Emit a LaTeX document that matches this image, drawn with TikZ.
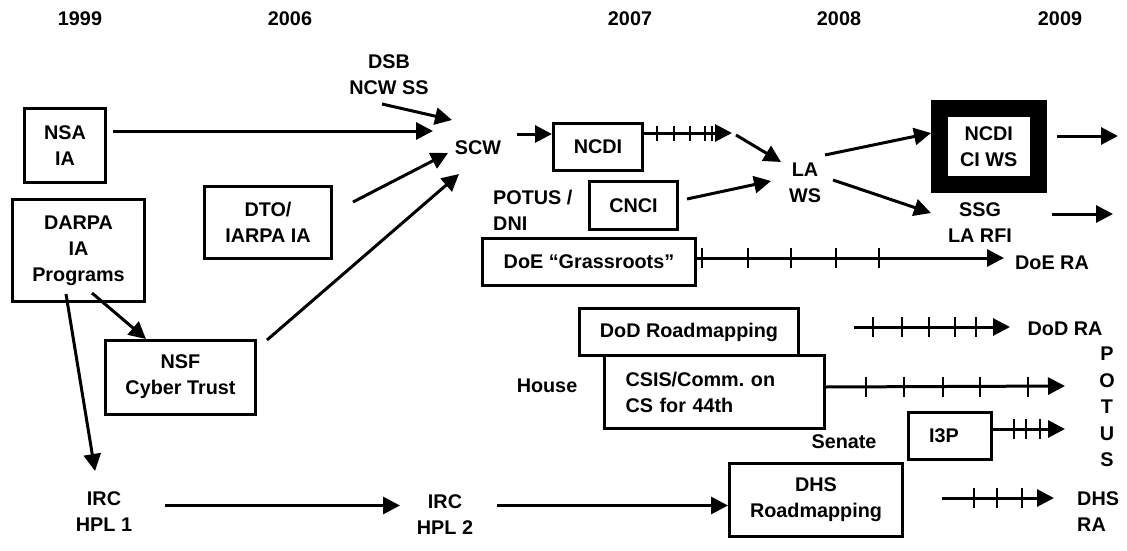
\documentclass[tikz,border=0pt]{standalone}
\usepackage{fontspec}
\setmainfont{Liberation Sans}
\usetikzlibrary{arrows.meta}
\frenchspacing
\begin{document}
\begin{tikzpicture}[x=1pt,y=-1pt,
  every node/.style={font=\fontsize{19.8}{26}\selectfont\bfseries, inner sep=0pt, align=center},
  box/.style={draw, line width=3pt},
  arr/.style={line width=3pt, -{Triangle[length=17pt,width=17pt]}},
  tickmark/.style={line width=2.5pt},
]
\fill[white] (0,0) rectangle (1127,551);
\useasboundingbox (0,0) rectangle (1127,551);

% years
\node (y1999) at (80,19) {1999};
\node (y2006) at (290,19) {2006};
\node (y2007) at (630,19) {2007};
\node (y2008) at (839,19) {2008};
\node (y2009) at (1060,19) {2009};

% nodes
\node (dsb) at (389,74.5) {DSB\\NCW SS};
\node[box, minimum width=81pt, minimum height=74pt] (nsa) at (65,145.5) {NSA\\IA};
\node[box, minimum width=132pt, minimum height=102pt] (darpa) at (78.5,250.5) {DARPA\\IA\\Programs};
\node[box, minimum width=127pt, minimum height=72pt] (dto) at (268,222.5) {DTO/\\IARPA IA};
\node[box, minimum width=150pt, minimum height=74pt] (nsf) at (180.5,377) {NSF\\Cyber Trust};
\node (scw) at (478,148) {SCW};
\node[box, minimum width=89pt, minimum height=47pt] (ncdi) at (598,147) {NCDI};
\node[box, minimum width=88pt, minimum height=48pt] (cnci) at (633.5,205.5) {CNCI};
\node[anchor=west, align=left] (potus) at (493,210.5) {POTUS /\\DNI};
\node[box, minimum width=213pt, minimum height=47pt] (doe) at (589,262) {DoE “Grassroots”};
\node (la) at (805,183) {LA\\WS};
\node[draw, line width=17pt, minimum width=98.5pt, minimum height=75.5pt] (ncdici) at (988.75,146.25) {NCDI\\CI WS};
\node (ssg) at (980,222.5) {SSG\\LA RFI};
\node (doera) at (1052,263) {DoE RA};
\node[box, minimum width=219pt, minimum height=47pt] (dod) at (689,332) {DoD Roadmapping};
\node (dodra) at (1065,329) {DoD RA};
\node[box, text width=178pt, inner xsep=21pt, align=left, minimum height=73pt] (csis) at (714.5,392) {CSIS/Comm. on\\CS for 44th};
\node (house) at (547,386) {House};
\node[font=\fontsize{19.8}{26.5}\selectfont\bfseries] (potusv) at (1107,407) {P\\O\\T\\U\\S};
\node[box, minimum width=83pt, minimum height=47pt] (i3p) at (950,436) {I3P\hspace*{12pt}};
\node (senate) at (844,442) {Senate};
\node[box, minimum width=173pt, minimum height=73pt] (dhs) at (816,500) {DHS\\Roadmapping};
\node[anchor=west, align=left] (dhsra) at (1077,511.5) {DHS\\RA};
\node (irc1) at (104,512) {IRC\\HPL 1};
\node (irc2) at (445,514.5) {IRC\\HPL 2};

% connector end points
\coordinate (dsbS) at (382,104);
\coordinate (scwA) at (452,120);
\coordinate (scwB) at (433,131);
\coordinate (dtoS) at (353,202);
\coordinate (scwC) at (448,153);
\coordinate (nsfS) at (267,340);
\coordinate (scwD) at (459,174);
\coordinate (scwE) at (517,134);
\coordinate (ncdiH) at (732,133);
\coordinate (laA1) at (736,135);
\coordinate (laA2) at (781,162);
\coordinate (cnciS) at (687,199);
\coordinate (laB) at (771,181);
\coordinate (laC) at (825,155);
\coordinate (ncdiciW) at (931,133);
\coordinate (laD) at (833,180);
\coordinate (ssgW) at (931,213);
\coordinate (ciR1) at (1057,136);
\coordinate (ciR2) at (1118,136);
\coordinate (ssgR1) at (1052,214);
\coordinate (ssgR2) at (1113,214);
\coordinate (doeE) at (1004,258);
\coordinate (dodA1) at (854,327);
\coordinate (dodA2) at (1010,327);
\coordinate (csisE) at (1065,386);
\coordinate (i3pE) at (1065,429);
\coordinate (dhsA1) at (942,498);
\coordinate (dhsA2) at (1054,498);
\coordinate (darpaS1) at (92,293);
\coordinate (nsfT) at (146,339);
\coordinate (darpaS2) at (66,294);
\coordinate (irc1T) at (95,471);
\coordinate (irc1E) at (165,505.5);
\coordinate (irc2W) at (400,505.5);
\coordinate (irc2E) at (497,505.5);

% connectors
\draw[arr] (dsbS) -- (scwA);
\draw[arr, shorten <=6pt] (scwB -| nsa.east) -- (scwB);
\draw[arr] (dtoS) -- (scwC);
\draw[arr] (nsfS) -- (scwD);
\draw[arr] (scwE) -- (scwE -| ncdi.west);
\draw[arr] (ncdiH -| ncdi.east) -- (ncdiH);
\foreach \t in {657,674,690,705,712} \draw[tickmark] (\t,125.5) -- (\t,140.5);
\draw[arr] (laA1) -- (laA2);
\draw[arr] (cnciS) -- (laB);
\draw[arr] (laC) -- (ncdiciW);
\draw[arr] (laD) -- (ssgW);
\draw[arr] (ciR1) -- (ciR2);
\draw[arr] (ssgR1) -- (ssgR2);
\draw[arr] (doeE -| doe.east) -- (doeE);
\foreach \t in {702,748,791,836,879} \draw[tickmark] (\t,248) -- (\t,268);
\draw[arr] (dodA1) -- (dodA2);
\foreach \t in {873,902,929,955,976} \draw[tickmark] (\t,317) -- (\t,337);
\draw[arr] (csis.east |- 0,387) -- (csisE);
\foreach \t in {866,904,943,980,1028} \draw[tickmark] (\t,376.5) -- (\t,396.5);
\draw[arr] (i3pE -| i3p.east) -- (i3pE);
\foreach \t in {1014,1026,1040} \draw[tickmark] (\t,419) -- (\t,439);
\draw[arr] (dhsA1) -- (dhsA2);
\foreach \t in {974,997,1022} \draw[tickmark] (\t,488) -- (\t,508);
\draw[arr] (darpaS1) -- (nsfT);
\draw[arr] (darpaS2) -- (irc1T);
\draw[arr] (irc1E) -- (irc2W);
\draw[arr] (irc2E) -- (irc2E -| dhs.west);
\end{tikzpicture}
\end{document}
